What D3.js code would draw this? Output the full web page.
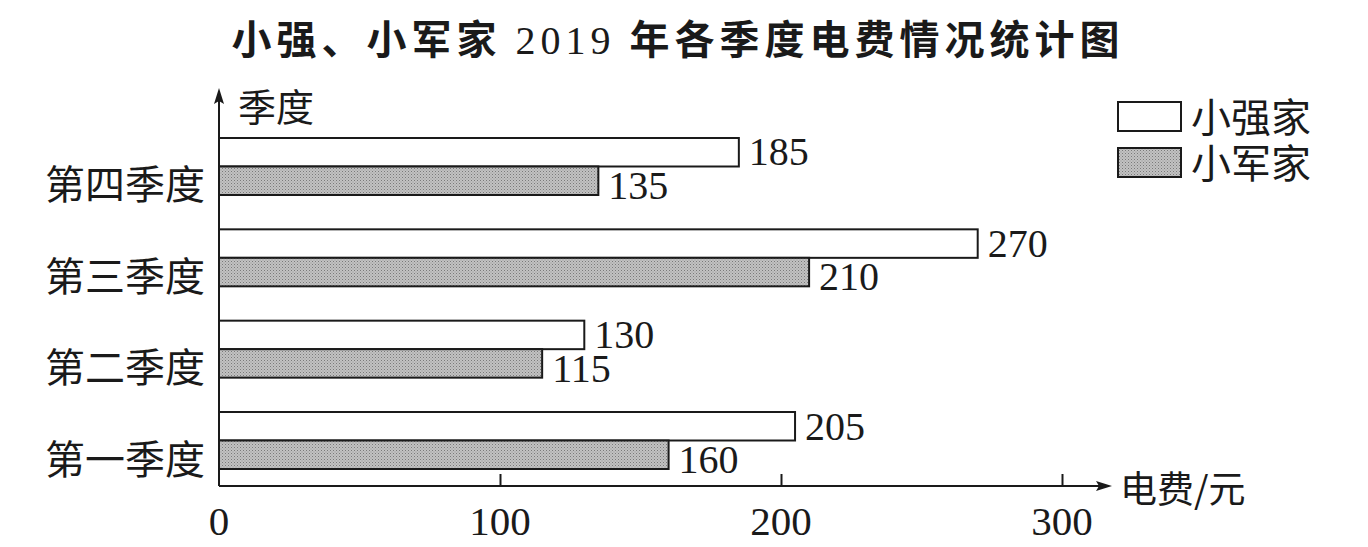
<!DOCTYPE html>
<html><head><meta charset="utf-8">
<script src="https://cdn.jsdelivr.net/npm/d3@7"></script>
<style>body{margin:0;background:#fff}svg{display:block}</style>
</head><body>
<svg id="c" width="1368" height="547"></svg>
<script>
const categories = ["第一季度","第二季度","第三季度","第四季度"];
const seriesNames = ["小强家","小军家"];
const xiaoqiang = [205,130,270,185];
const xiaojun = [160,115,210,135];
const xTicks = [0,100,200,300];
const titleParts = ["小强、小军家 ","2019"," 年各季度电费情况统计图"];

const svg = d3.select("#c");
const defs = svg.append("defs");
const pat = defs.append("pattern").attr("id","dots").attr("patternUnits","userSpaceOnUse").attr("width",3).attr("height",3);
pat.append("rect").attr("width",3).attr("height",3).attr("fill","#c2c2c2");
pat.append("rect").attr("x",0).attr("y",0).attr("width",1).attr("height",1).attr("fill","#7a7a7a");
pat.append("rect").attr("x",1.5).attr("y",1.5).attr("width",1).attr("height",1).attr("fill","#959595");

const cjk = "'Noto Sans CJK SC','Noto Sans CJK JP',sans-serif";
const serif = "'Liberation Serif','DejaVu Serif',serif";
const ink = "#1a1a1a";

const x = d3.scaleLinear().domain([0,300]).range([219,1062]);
const y = d3.scaleBand().domain(categories.slice().reverse()).range([138,469]).paddingInner(0.376).paddingOuter(0);
const ys = d3.scaleBand().domain(seriesNames).range([0,y.bandwidth()]);
const fills = ["#ffffff","url(#dots)"];
const data = [xiaoqiang, xiaojun];

// title
const t = svg.append("text").attr("x",678).attr("y",54).attr("text-anchor","middle").attr("fill",ink).style("letter-spacing","5px");
t.append("tspan").text(titleParts[0]).attr("font-family",cjk).attr("font-weight",600).attr("font-size",40);
t.append("tspan").text(titleParts[1]).attr("font-family",serif).attr("font-size",40);
t.append("tspan").text(titleParts[2]).attr("font-family",cjk).attr("font-weight",600).attr("font-size",40);

// bars
categories.forEach((c,i)=>{
  seriesNames.forEach((s,j)=>{
    const v = data[j][i];
    svg.append("rect").attr("x",x(0)).attr("y",y(c)+ys(s)).attr("width",x(v)-x(0)).attr("height",ys.bandwidth())
      .attr("fill",fills[j]).attr("stroke",ink).attr("stroke-width",2);
    svg.append("text").attr("x",x(v)+10).attr("y",y(c)+ys(s)+ys.bandwidth()+(j===0?-1:4))
      .attr("font-family",serif).attr("font-size",40).attr("fill",ink).text(v);
  });
  svg.append("text").attr("x",205).attr("y",y(c)+y.bandwidth()/2+33).attr("text-anchor","end")
    .attr("font-family",cjk).attr("font-size",40).attr("fill",ink).text(c);
});

// axes
const axisY = 486;
svg.append("line").attr("x1",x(0)).attr("x2",1105).attr("y1",axisY).attr("y2",axisY).attr("stroke",ink).attr("stroke-width",2);
svg.append("path").attr("d",`M1112,${axisY} L1096,${axisY-5} L1099,${axisY} L1096,${axisY+5} Z`).attr("fill",ink);
svg.append("line").attr("x1",x(0)).attr("x2",x(0)).attr("y1",axisY).attr("y2",95).attr("stroke",ink).attr("stroke-width",2);
svg.append("path").attr("d",`M${x(0)},88 L${x(0)-5},104 L${x(0)},101 L${x(0)+5},104 Z`).attr("fill",ink);

const xAxis = d3.axisTop(x).tickValues(xTicks.slice(1)).tickSize(12).tickFormat("");
const gx = svg.append("g").attr("transform",`translate(0,${axisY})`).call(xAxis);
gx.select(".domain").remove();
gx.selectAll(".tick line").attr("stroke",ink).attr("stroke-width",2);
xTicks.forEach(v=>{
  svg.append("text").attr("x",x(v)).attr("y",535).attr("text-anchor","middle")
    .attr("font-family",serif).attr("font-size",41).attr("fill",ink).text(v);
});
svg.append("text").attr("x",1120).attr("y",503).attr("font-family",cjk).attr("font-size",37).attr("fill",ink).text("电费/元");
svg.append("text").attr("x",238).attr("y",121).attr("font-family",cjk).attr("font-size",38).attr("fill",ink).text("季度");

// legend
seriesNames.forEach((s,j)=>{
  const ly = 102 + j*46;
  svg.append("rect").attr("x",1118).attr("y",ly).attr("width",63).attr("height",29).attr("fill",fills[j]).attr("stroke",ink).attr("stroke-width",2);
  svg.append("text").attr("x",1191).attr("y",ly+30).attr("font-family",cjk).attr("font-size",40).attr("fill",ink).text(s);
});
</script>
</body></html>
